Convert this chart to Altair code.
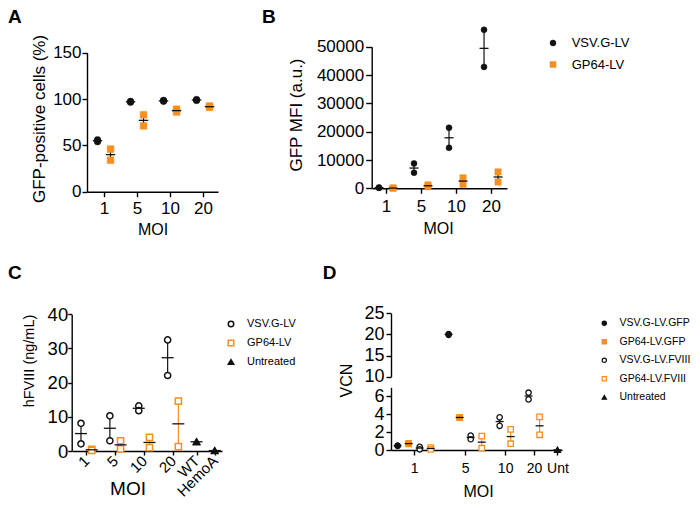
import altair as alt
import pandas as pd

FONT = "Liberation Sans"
ORANGE = "#f78f1e"
BLACK = "#111111"

# ---------------- data ----------------
moi_groups = ["1", "5", "10", "20"]
a_vsv = [[56, 54], [97.5, 96.5], [98.5, 97.5], [99.5, 98.5]]
a_gp64 = [[46, 34], [83, 71], [89, 86], [92.5, 91]]

b_vsv = [[300, 150], [8800, 5500], [21400, 14300], [56000, 42900]]
b_gp64 = [[120, 40], [1200, 600], [3700, 1400], [5800, 2200]]

c_groups = ["1", "5", "10", "20", "WT", "HemoA"]
c_vsv = [[8.1, 2.1], [10.3, 3.0], [13.2, 11.8], [32.5, 22.1]]
c_gp64 = [[0.5, 0.2], [3.0, 0.6], [4.0, 1.0], [14.6, 1.3]]
c_untreated = [[2.8, 2.6], [0.2, 0.05]]

d_groups = ["1", "5", "10", "20", "Unt"]
d_vsv_gfp = [[0.5, 0.45], [20.1, 19.9]]
d_gp64_gfp = [[0.75, 0.68], [3.66, 3.6]]
d_vsv_fviii = [[0.35, 0.08], [1.6, 1.2], [3.65, 2.7], [6.4, 5.65]]
d_gp64_fviii = [[0.28, 0.06], [1.55, 0.2], [2.3, 0.7], [3.7, 1.7]]
d_untreated = [[0.03, 0.0]]

ab_series = ["VSV.G-LV", "GP64-LV"]
c_series = ["VSV.G-LV", "GP64-LV", "Untreated"]
d_series = ["VSV.G-LV.GFP", "GP64-LV.GFP", "VSV.G-LV.FVIII", "GP64-LV.FVIII", "Untreated"]


# ---------------- helpers ----------------
def build(groups, series_data, gap):
    """Grouped (GraphPad-like) slot layout: each group holds the series present in it."""
    members = {g: [] for g in groups}
    for name, gnames, _ in series_data:
        for g in gnames:
            members[g].append(name)
    pos, centers, cur = {}, [], 0.0
    for g in groups:
        for j, s in enumerate(members[g]):
            pos[(g, s)] = cur + j
        centers.append(round(cur + (len(members[g]) - 1) / 2, 4))
        cur += len(members[g]) + gap
    rows = []
    for name, gnames, vals in series_data:
        for g, reps in zip(gnames, vals):
            for v in reps:
                rows.append({"group": g, "series": name,
                             "pos": round(pos[(g, name)], 4), "value": v})
    return pd.DataFrame(rows), centers


def label_expr(groups, centers):
    expr = "'%s'" % groups[-1]
    for i in range(len(groups) - 2, -1, -1):
        mid = (centers[i] + centers[i + 1]) / 2
        expr = "datum.value < %.3f ? '%s' : %s" % (mid, groups[i], expr)
    return expr


def x_axis(groups, centers, offset, title, tx, ty, lfs, tfs, tick, pad, angle=None):
    kw = dict(orient="bottom", offset=offset, values=centers,
              labelExpr=label_expr(groups, centers), title=title,
              titleX=tx, titleY=ty, titleAlign="center", titleBaseline="middle",
              titleAngle=0, labelFontSize=lfs, titleFontSize=tfs,
              tickSize=tick, labelPadding=pad)
    if angle is not None:
        kw.update(labelAngle=angle, labelAlign="right", labelBaseline="middle")
    return alt.Axis(**kw)


def y_axis(values, offset, title, tx, ty, lfs, tfs, tick, pad):
    kw = dict(orient="left", offset=offset, values=values, format="d",
              labelFontSize=lfs, tickSize=tick, labelPadding=pad)
    if title:
        kw.update(title=title, titleX=tx, titleY=ty, titleAngle=270,
                  titleAlign="center", titleBaseline="middle", titleFontSize=tfs)
    else:
        kw.update(title=None)
    return alt.Axis(**kw)


def panel(df, series, shapes, fills, strokes, sizes, sw, xs, ys, xaxis, yaxis,
          err_colored, mean_size, keep=None):
    """Returns flat list of layers: error bars, points, mean lines."""
    base = alt.Chart(df)
    pts_src = base if keep is None else base.transform_filter(keep.format(f="value"))
    agg = base.transform_aggregate(mean="mean(value)", lo="min(value)", hi="max(value)",
                                   groupby=["group", "series", "pos"])
    if keep is not None:
        agg = agg.transform_filter(keep.format(f="mean"))

    def stroke_enc():
        return alt.Stroke("series:N", scale=alt.Scale(domain=series, range=strokes), legend=None)

    if err_colored:
        err = agg.mark_rule(strokeWidth=1.2).encode(
            x=alt.X("pos:Q", scale=xs, axis=None),
            y=alt.Y("lo:Q", scale=ys, axis=None), y2="hi:Q",
            stroke=stroke_enc())
    else:
        err = agg.mark_rule(strokeWidth=1.2, color=BLACK).encode(
            x=alt.X("pos:Q", scale=xs, axis=None),
            y=alt.Y("lo:Q", scale=ys, axis=None), y2="hi:Q")

    pts = pts_src.mark_point(opacity=1, strokeWidth=sw).encode(
        x=alt.X("pos:Q", scale=xs, axis=xaxis),
        y=alt.Y("value:Q", scale=ys, axis=yaxis),
        shape=alt.Shape("series:N", scale=alt.Scale(domain=series, range=shapes), legend=None),
        fill=alt.Fill("series:N", scale=alt.Scale(domain=series, range=fills), legend=None),
        stroke=stroke_enc(),
        size=alt.Size("series:N", scale=alt.Scale(domain=series, range=sizes), legend=None),
    )
    mean = agg.mark_point(shape="M-1,0L1,0", size=mean_size, color=BLACK,
                          strokeWidth=1.3, opacity=1, filled=False).encode(
        x=alt.X("pos:Q", scale=xs, axis=None),
        y=alt.Y("mean:Q", scale=ys, axis=None))
    return [err, pts, mean]


def legend(series, shapes, fills, strokes, sizes, sw, sym_x, text_x, y0, y1, fs):
    ldf = pd.DataFrame({"series": series})

    def ys():
        return alt.Y("series:N", scale=alt.Scale(type="point", domain=series, range=[y0, y1],
                                                  padding=0), axis=None)

    sym = alt.Chart(ldf).mark_point(opacity=1, strokeWidth=sw).encode(
        x=alt.value(sym_x), y=ys(),
        shape=alt.Shape("series:N", scale=alt.Scale(domain=series, range=shapes), legend=None),
        fill=alt.Fill("series:N", scale=alt.Scale(domain=series, range=fills), legend=None),
        stroke=alt.Stroke("series:N", scale=alt.Scale(domain=series, range=strokes), legend=None),
        size=alt.Size("series:N", scale=alt.Scale(domain=series, range=sizes), legend=None),
    )
    txt = alt.Chart(ldf).mark_text(align="left", baseline="middle", fontSize=fs,
                                   font=FONT, color="black").encode(
        x=alt.value(text_x), y=ys(), text="series:N")
    return [sym, txt]


def letter(t, x, y):
    return alt.Chart(pd.DataFrame({"t": [t]})).mark_text(
        align="left", baseline="alphabetic", fontSize=19, fontWeight="bold",
        font=FONT, color="black").encode(x=alt.value(x), y=alt.value(y), text="t:N")


H = 492
W = 684

# ---------------- panel A ----------------
df_a, cen_a = build(moi_groups, [("VSV.G-LV", moi_groups, a_vsv),
                                 ("GP64-LV", moi_groups, a_gp64)], 0.54)
xs_a = alt.Scale(domain=[-0.81, 9.27], range=[79, 210], nice=False, zero=False)
ys_a = alt.Scale(domain=[0, 150], range=[183.7, 44.7], nice=False, zero=False)
A = panel(df_a, ab_series, ["circle", "square"], [BLACK, ORANGE], [BLACK, ORANGE], [44, 45], 0.5,
          xs_a, ys_a,
          x_axis(moi_groups, cen_a, 183.7 - H, "MOI", 144.5, 38, 17, 16, 5, 4),
          y_axis([0, 50, 100, 150], -79, "GFP-positive cells (%)", -47.5, 110.5, 17, 17, 5, 1),
          False, 90)

# ---------------- panel B ----------------
df_b, cen_b = build(moi_groups, [("VSV.G-LV", moi_groups, b_vsv),
                                 ("GP64-LV", moi_groups, b_gp64)], 0.5)
xs_b = alt.Scale(domain=[-0.5, 9.14], range=[364, 499], nice=False, zero=False)
ys_b = alt.Scale(domain=[0, 50000], range=[180.3, 38.8], nice=False, zero=False)
B = panel(df_b, ab_series, ["circle", "square"], [BLACK, ORANGE], [BLACK, ORANGE], [36, 40], 0.5,
          xs_b, ys_b,
          x_axis(moi_groups, cen_b, 180.3 - H, "MOI", 430, 40.5, 17, 16, 5, 5),
          y_axis([0, 10000, 20000, 30000, 40000, 50000], -363.7, "GFP MFI (a.u.)",
                 -75.6, 106.5, 17, 17, 6, 2),
          False, 81)

# ---------------- panel C ----------------
df_c, cen_c = build(c_groups, [("VSV.G-LV", moi_groups, c_vsv),
                               ("GP64-LV", moi_groups, c_gp64),
                               ("Untreated", ["WT", "HemoA"], c_untreated)], 0.7)
xs_c = alt.Scale(domain=[-0.84, 13.18], range=[64, 214], nice=False, zero=False)
ys_c = alt.Scale(domain=[0, 40], range=[443, 306.3], nice=False, zero=False)
C = panel(df_c, c_series, ["circle", "square", "triangle-up"], ["white", "white", BLACK],
          [BLACK, ORANGE, BLACK], [38, 38, 26], 1.5,
          xs_c, ys_c,
          x_axis(c_groups, cen_c, 443 - H, "MOI", 119.5, 37.5, 15, 19, 4, 3, angle=315),
          y_axis([0, 10, 20, 30, 40], -63.7, "hFVIII (ng/mL)", -42.5, 352.5, 18.5, 14.5, 4, 0),
          True, 144)

# ---------------- panel D (broken y axis: two stacked value ranges) ----------------
df_d, cen_d = build(d_groups, [("VSV.G-LV.GFP", ["1", "5"], d_vsv_gfp),
                               ("GP64-LV.GFP", ["1", "5"], d_gp64_gfp),
                               ("VSV.G-LV.FVIII", moi_groups, d_vsv_fviii),
                               ("GP64-LV.FVIII", moi_groups, d_gp64_fviii),
                               ("Untreated", ["Unt"], d_untreated)], 0.62)
xs_d = alt.Scale(domain=[-0.6, 14.89], range=[383, 554], nice=False, zero=False)
ys_dtop = alt.Scale(domain=[10, 25], range=[368.7, 305.3], nice=False, zero=False)
ys_dbot = alt.Scale(domain=[0, 7], range=[442, 379.3], nice=False, zero=False)
d_shapes = ["circle", "square", "circle", "square", "triangle-up"]
d_fills = [BLACK, ORANGE, "white", "white", BLACK]
d_strokes = [BLACK, ORANGE, BLACK, ORANGE, BLACK]
d_sizes = [28, 30, 30, 36, 24]
D_top = panel(df_d, d_series, d_shapes, d_fills, d_strokes, d_sizes, 1.3, xs_d, ys_dtop,
              None, y_axis([10, 15, 20, 25], -383, None, 0, 0, 18, 16, 5, 2),
              True, 64, keep="datum.{f} >= 8")
D_bot = panel(df_d, d_series, d_shapes, d_fills, d_strokes, d_sizes, 1.3, xs_d, ys_dbot,
              x_axis(d_groups, cen_d, 442 - H, "MOI", 470, 41.5, 14, 16, 5, 6),
              y_axis([0, 2, 4, 6], -383, "VCN", -44.3, 372, 18, 16, 5, 2),
              True, 64, keep="datum.{f} < 8")

# ---------------- legends ----------------
leg_b = legend(ab_series, ["circle", "square"], [BLACK, ORANGE], [BLACK, ORANGE], [36, 36], 0.5,
               545, 563.7, 35, 56.5, 13)
leg_c = legend(c_series, ["circle", "square", "triangle-up"], ["white", "white", BLACK],
               [BLACK, ORANGE, BLACK], [30, 30, 18], 1.5, 223, 239, 316, 354, 11)
leg_d = legend(d_series, d_shapes, d_fills, d_strokes, [18, 18, 18, 20, 14], 1.2,
               596.3, 611.5, 315.3, 389.3, 10.5)

letters = [letter("A", 0, 15), letter("B", 254, 15), letter("C", 0, 271), letter("D", 314.7, 271)]

layers = A + B + C + D_top + D_bot + leg_b + leg_c + leg_d + letters

chart = alt.layer(*layers).resolve_scale(
    x="independent", y="independent", shape="independent",
    fill="independent", stroke="independent", size="independent",
).properties(
    width=W, height=H, padding=0, autosize=alt.AutoSizeParams(type="none"),
).configure_view(
    strokeWidth=0,
).configure_axis(
    grid=False, domainColor="black", tickColor="black", labelColor="black",
    titleColor="black", labelFont=FONT, titleFont=FONT, titleFontWeight="normal",
    domainWidth=1.4, tickWidth=1.4, labelFlush=False, labelOverlap=False,
)

chart.save("out.html", embed_options={"renderer": "svg", "actions": False})
